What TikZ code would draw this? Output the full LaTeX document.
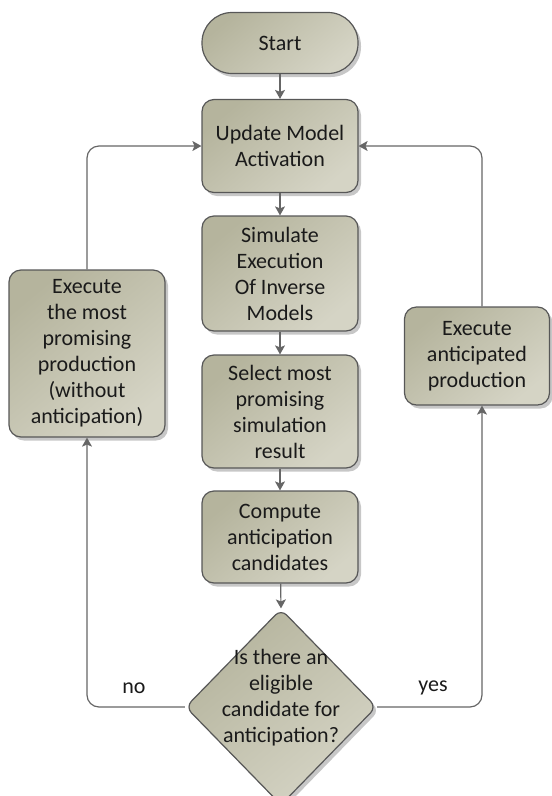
\documentclass[tikz,border=0pt]{standalone}
\usepackage{fontspec}
\setmainfont{Carlito}
\usetikzlibrary{shapes.geometric,shadows,arrows.meta}
\definecolor{fillA}{HTML}{B5B49D}
\definecolor{fillB}{HTML}{D5D4C5}
\definecolor{edgeC}{HTML}{575757}
\definecolor{lineC}{HTML}{666666}
\definecolor{txtC}{HTML}{1A1A1A}
\begin{document}
\begin{tikzpicture}[x=1pt,y=-1pt,
  shade box/.style={draw=edgeC, line width=1.2pt, top color=fillA, bottom color=fillB, shading angle=40,
    drop shadow={shadow xshift=3pt, shadow yshift=-3.5pt, fill=black, opacity=0.22}},
  box/.style={shade box, rounded corners=12pt, align=center, inner sep=0pt, text=txtC,
    font=\fontsize{22}{26}\selectfont},
  conn/.style={draw=lineC, line width=1.2pt, -{Stealth[length=9pt,width=10pt,inset=2pt]}},
  lbl/.style={text=txtC, font=\fontsize{22}{26}\selectfont, align=center, inner sep=0pt}]
\useasboundingbox (0,0) rectangle (552,796);

\node[box, rounded corners=30pt, minimum width=156pt, minimum height=61pt] (start) at (280,43) {Start};
\node[box, minimum width=156pt, minimum height=93pt] (upd) at (280,146) {Update Model\\Activation};
\node[box, minimum width=156pt, minimum height=115pt] (sim) at (280,273.5) {Simulate\\Execution\\Of Inverse\\Models};
\node[box, minimum width=156pt, minimum height=113pt] (sel) at (280,411.5) {Select most\\promising\\simulation\\result};
\node[box, minimum width=156pt, minimum height=92pt] (comp) at (280,537) {Compute\\anticipation\\candidates};
\node[shade box, diamond, rounded corners=8pt, minimum width=191pt, minimum height=196pt, inner sep=0pt] (dia) at (281,707) {};
\node[lbl] (dtext) at (281,698) {Is there an\\eligible\\candidate for\\anticipation?};
\node[box, minimum width=156pt, minimum height=167pt] (lbox) at (87,353.5) {Execute\\the most\\promising\\production\\(without\\anticipation)};
\node[box, minimum width=145pt, minimum height=98pt] (rbox) at (477,356) {Execute\\anticipated\\production};

\node[lbl] (no) at (134,688) {no};
\node[lbl] (yes) at (433,688) {yes};

\draw[conn] (start) -- (upd);
\draw[conn] (upd) -- (sim);
\draw[conn] (sim) -- (sel);
\draw[conn] (sel) -- (comp);
\draw[conn] (comp) -- (dia.north);
\draw[conn, rounded corners=12pt] (dia.west) -| (lbox.south);
\draw[conn, rounded corners=12pt] (dia.east) -| ([xshift=5pt]rbox.south);
\draw[conn, rounded corners=12pt] (lbox.north) |- (upd.west);
\draw[conn, rounded corners=12pt] ([xshift=5pt]rbox.north) |- (upd.east);
\end{tikzpicture}
\end{document}
